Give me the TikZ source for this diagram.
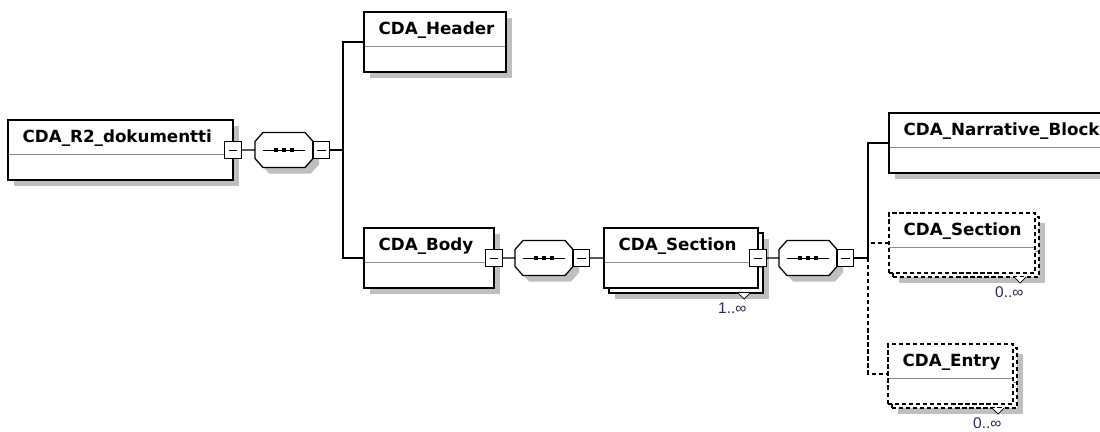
\documentclass[tikz,border=0pt]{standalone}
\usepackage{fontspec}
\setmainfont{Liberation Sans}
\newfontfamily\elemfont{DejaVu Sans}
\usetikzlibrary{shadows,calc}
\definecolor{multcol}{RGB}{40,40,90}

\begin{document}
\begin{tikzpicture}[x=0.025cm, y=-0.025cm, line width=0.9pt,
  shade/.style={drop shadow={shadow xshift=0.15cm, shadow yshift=-0.15cm, fill=black!25, opacity=1}},
  elem/.style={draw, fill=white, anchor=north west, inner sep=0pt, outer sep=0pt, minimum height=1.5cm,
    path picture={\draw[solid, black!45, line width=0.6pt] ([yshift=-0.85cm]path picture bounding box.north west) -- ([yshift=-0.85cm]path picture bounding box.north east);}},
  optional/.style={dash pattern=on 3pt off 2pt},
  elemtext/.style={anchor=base west, inner sep=0pt, font=\elemfont\fontsize{11.9}{14}\selectfont\bfseries},
  minus/.style={draw, fill=white, minimum size=0.42cm, inner sep=0pt, outer sep=0pt,
    path picture={\draw[line width=0.6pt] ([xshift=0.1cm]path picture bounding box.west) -- ([xshift=-0.1cm]path picture bounding box.east);}},
  seq/.style={rectangle, minimum width=1.45cm, minimum height=0.875cm, inner sep=0pt, outer sep=0pt},
  mult/.style={anchor=north east, inner sep=0pt, text=multcol, font=\fontsize{11}{13}\selectfont}]
\useasboundingbox (0,0) rectangle (1100,432);

% elements
\node[elem, shade, minimum width=5.625cm] (r2) at (8,120) {};
\node[elem, shade, minimum width=3.55cm] (header) at (364,12) {};
\node[elem, shade, minimum width=3.25cm] (body) at (364,228) {};
\node[elem, shade, minimum width=3.85cm] (sectbk) at (609,233) {};
\node[elem, minimum width=3.85cm] (sect) at (604,228) {};
\node[elem, shade, minimum width=5.65cm] (narr) at (889,113) {};
\node[elem, optional, shade, minimum width=3.65cm] (sect2bk) at (893,217) {};
\node[elem, optional, minimum width=3.65cm] (sect2) at (889,213) {};
\node[elem, optional, shade, minimum width=3.125cm] (entrybk) at (892,348) {};
\node[elem, optional, minimum width=3.125cm] (entry) at (888,344) {};

\node[elemtext] (r2t) at ($(r2.north west)+(14,23)$) {CDA\_R2\_dokumentti};
\node[elemtext] (headert) at ($(header.north west)+(14,23)$) {CDA\_Header};
\node[elemtext] (bodyt) at ($(body.north west)+(14,23)$) {CDA\_Body};
\node[elemtext] (sectt) at ($(sect.north west)+(14,23)$) {CDA\_Section};
\node[elemtext] (narrt) at ($(narr.north west)+(14,23)$) {CDA\_Narrative\_Block};
\node[elemtext] (sect2t) at ($(sect2.north west)+(14,23)$) {CDA\_Section};
\node[elemtext] (entryt) at ($(entry.north west)+(14,23)$) {CDA\_Entry};

% occurrence marks
\draw[line width=0.5pt, fill=white] ($(sectbk.south east)+(-25,0)$) -- ++(6,6) -- ++(6,-6);
\draw[line width=0.5pt, fill=white] ($(sect2bk.south east)+(-25,0)$) -- ++(6,6) -- ++(6,-6);
\draw[line width=0.5pt, fill=white] ($(entrybk.south east)+(-25,0)$) -- ++(6,6) -- ++(6,-6);
\node[mult] (sectn) at ($(sectbk.south east)+(-16,9)$) {1..∞};
\node[mult] (sect2n) at ($(sect2bk.south east)+(-15,9)$) {0..∞};
\node[mult] (entryn) at ($(entrybk.south east)+(-15,9)$) {0..∞};

% sequences
\node[seq] (seq1) at (284,150) {};
\node[seq] (seq2) at (544,258) {};
\node[seq] (seq3) at (808,258) {};
\foreach \s in {seq1,seq2,seq3} {
  \filldraw[fill=white, shade] ($(\s.north west)+(8,0)$) -- ($(\s.north east)+(-8,0)$)
    -- ($(\s.north east)+(0,9)$) -- ($(\s.south east)+(0,-9)$) -- ($(\s.south east)+(-8,0)$)
    -- ($(\s.south west)+(8,0)$) -- ($(\s.south west)+(0,-9)$) -- ($(\s.north west)+(0,9)$) -- cycle;
  \draw[line width=0.6pt] ($(\s.west)+(8,0)$) -- ($(\s.east)+(-8,0)$);
  \foreach \dx in {-8,0,8}
    \fill ($(\s.center)+(\dx,0)$) +(-2,-2) rectangle +(2,2);
}

% collapse boxes
\node[minus] (r2m) at (r2.east) {};
\node[minus] (bodym) at (body.east) {};
\node[minus] (sectm) at (sect.east) {};
\node[minus, anchor=west] (seq1m) at (seq1.east) {};
\node[minus, anchor=west] (seq2m) at (seq2.east) {};
\node[minus, anchor=west] (seq3m) at (seq3.east) {};

% connectors
\coordinate (j1) at (343,150);
\coordinate (j2) at (868,258);
\draw (r2m.east) -- (seq1.west);
\draw (seq1m.east) -- (j1);
\draw (header.west) -| (j1) |- (body.west);
\draw (bodym.east) -- (seq2.west);
\draw (seq2m.east) -- (sect.west);
\draw (sectm.east) -- (seq3.west);
\draw (seq3m.east) -- (j2);
\draw (narr.west) -| (j2);
\draw[optional] (j2) |- (entry.west);
\draw[optional] (sect2.west) -- (sect2.west -| j2);
\end{tikzpicture}
\end{document}
